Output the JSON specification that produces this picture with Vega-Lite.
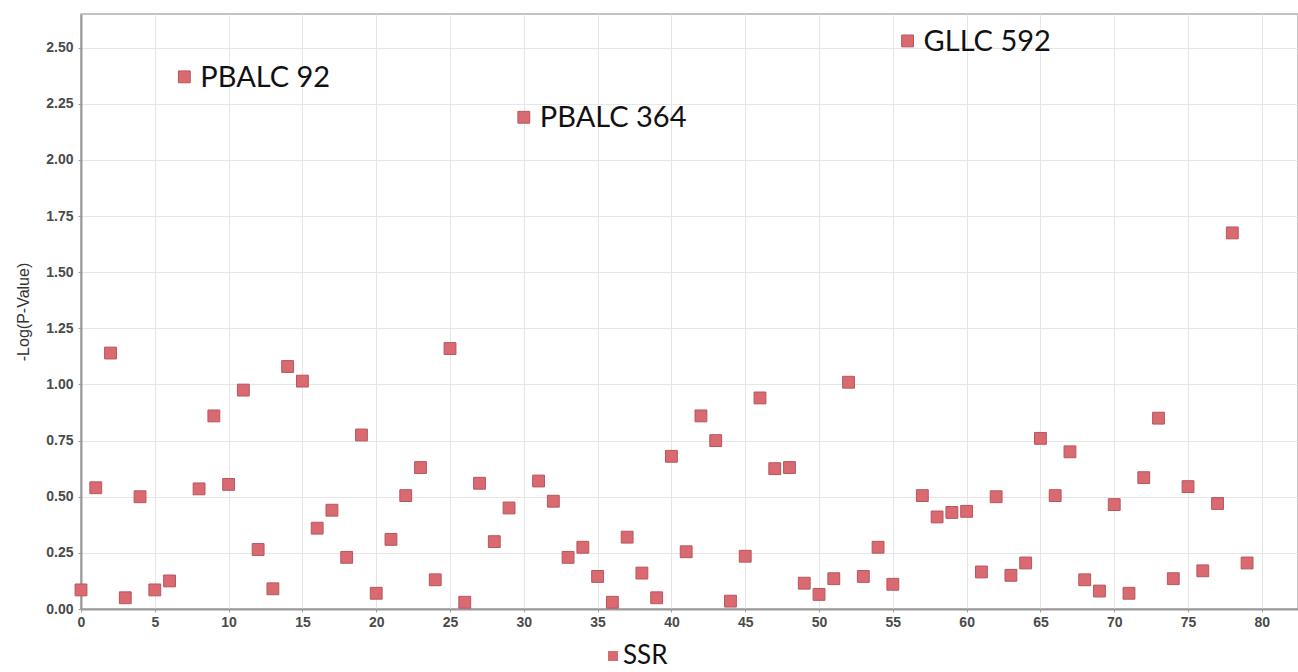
{
  "$schema": "https://vega.github.io/schema/vega-lite/v6.json",
  "autosize": {"type": "none"},
  "padding": {"left": 81, "top": 14, "right": 0, "bottom": 63},
  "width": 1217,
  "height": 595,
  "background": "white",
  "config": {
    "view": {"stroke": "#b0b0b0", "strokeWidth": 1.5},
    "axis": {
      "gridColor": "#e6e6e6",
      "gridWidth": 1,
      "domainColor": "#9a9a9a",
      "domainWidth": 2,
      "tickColor": "#9a9a9a",
      "tickSize": 3,
      "labelFont": "Liberation Sans",
      "labelFontSize": 14,
      "labelFontWeight": "bold",
      "labelColor": "#4a4a4a",
      "titleFont": "Liberation Sans",
      "titleFontSize": 16,
      "titleFontWeight": "normal",
      "titleColor": "#333333"
    }
  },
  "data": {
    "values": [
      {"ssr": 0, "p": 0.085, "series": "SSR", "label": ""},
      {"ssr": 1, "p": 0.54, "series": "SSR", "label": ""},
      {"ssr": 2, "p": 1.14, "series": "SSR", "label": ""},
      {"ssr": 3, "p": 0.05, "series": "SSR", "label": ""},
      {"ssr": 4, "p": 0.5, "series": "SSR", "label": ""},
      {"ssr": 5, "p": 0.085, "series": "SSR", "label": ""},
      {"ssr": 6, "p": 0.125, "series": "SSR", "label": ""},
      {"ssr": 7, "p": 2.37, "series": "SSR", "label": "PBALC 92"},
      {"ssr": 8, "p": 0.535, "series": "SSR", "label": ""},
      {"ssr": 9, "p": 0.86, "series": "SSR", "label": ""},
      {"ssr": 10, "p": 0.555, "series": "SSR", "label": ""},
      {"ssr": 11, "p": 0.975, "series": "SSR", "label": ""},
      {"ssr": 12, "p": 0.265, "series": "SSR", "label": ""},
      {"ssr": 13, "p": 0.09, "series": "SSR", "label": ""},
      {"ssr": 14, "p": 1.08, "series": "SSR", "label": ""},
      {"ssr": 15, "p": 1.015, "series": "SSR", "label": ""},
      {"ssr": 16, "p": 0.36, "series": "SSR", "label": ""},
      {"ssr": 17, "p": 0.44, "series": "SSR", "label": ""},
      {"ssr": 18, "p": 0.23, "series": "SSR", "label": ""},
      {"ssr": 19, "p": 0.775, "series": "SSR", "label": ""},
      {"ssr": 20, "p": 0.07, "series": "SSR", "label": ""},
      {"ssr": 21, "p": 0.31, "series": "SSR", "label": ""},
      {"ssr": 22, "p": 0.505, "series": "SSR", "label": ""},
      {"ssr": 23, "p": 0.63, "series": "SSR", "label": ""},
      {"ssr": 24, "p": 0.13, "series": "SSR", "label": ""},
      {"ssr": 25, "p": 1.16, "series": "SSR", "label": ""},
      {"ssr": 26, "p": 0.03, "series": "SSR", "label": ""},
      {"ssr": 27, "p": 0.56, "series": "SSR", "label": ""},
      {"ssr": 28, "p": 0.3, "series": "SSR", "label": ""},
      {"ssr": 29, "p": 0.45, "series": "SSR", "label": ""},
      {"ssr": 30, "p": 2.19, "series": "SSR", "label": "PBALC 364"},
      {"ssr": 31, "p": 0.57, "series": "SSR", "label": ""},
      {"ssr": 32, "p": 0.48, "series": "SSR", "label": ""},
      {"ssr": 33, "p": 0.23, "series": "SSR", "label": ""},
      {"ssr": 34, "p": 0.275, "series": "SSR", "label": ""},
      {"ssr": 35, "p": 0.145, "series": "SSR", "label": ""},
      {"ssr": 36, "p": 0.03, "series": "SSR", "label": ""},
      {"ssr": 37, "p": 0.32, "series": "SSR", "label": ""},
      {"ssr": 38, "p": 0.16, "series": "SSR", "label": ""},
      {"ssr": 39, "p": 0.05, "series": "SSR", "label": ""},
      {"ssr": 40, "p": 0.68, "series": "SSR", "label": ""},
      {"ssr": 41, "p": 0.255, "series": "SSR", "label": ""},
      {"ssr": 42, "p": 0.86, "series": "SSR", "label": ""},
      {"ssr": 43, "p": 0.75, "series": "SSR", "label": ""},
      {"ssr": 44, "p": 0.035, "series": "SSR", "label": ""},
      {"ssr": 45, "p": 0.235, "series": "SSR", "label": ""},
      {"ssr": 46, "p": 0.94, "series": "SSR", "label": ""},
      {"ssr": 47, "p": 0.625, "series": "SSR", "label": ""},
      {"ssr": 48, "p": 0.63, "series": "SSR", "label": ""},
      {"ssr": 49, "p": 0.115, "series": "SSR", "label": ""},
      {"ssr": 50, "p": 0.065, "series": "SSR", "label": ""},
      {"ssr": 51, "p": 0.135, "series": "SSR", "label": ""},
      {"ssr": 52, "p": 1.01, "series": "SSR", "label": ""},
      {"ssr": 53, "p": 0.145, "series": "SSR", "label": ""},
      {"ssr": 54, "p": 0.275, "series": "SSR", "label": ""},
      {"ssr": 55, "p": 0.11, "series": "SSR", "label": ""},
      {"ssr": 56, "p": 2.53, "series": "SSR", "label": "GLLC 592"},
      {"ssr": 57, "p": 0.505, "series": "SSR", "label": ""},
      {"ssr": 58, "p": 0.41, "series": "SSR", "label": ""},
      {"ssr": 59, "p": 0.43, "series": "SSR", "label": ""},
      {"ssr": 60, "p": 0.435, "series": "SSR", "label": ""},
      {"ssr": 61, "p": 0.165, "series": "SSR", "label": ""},
      {"ssr": 62, "p": 0.5, "series": "SSR", "label": ""},
      {"ssr": 63, "p": 0.15, "series": "SSR", "label": ""},
      {"ssr": 64, "p": 0.205, "series": "SSR", "label": ""},
      {"ssr": 65, "p": 0.76, "series": "SSR", "label": ""},
      {"ssr": 66, "p": 0.505, "series": "SSR", "label": ""},
      {"ssr": 67, "p": 0.7, "series": "SSR", "label": ""},
      {"ssr": 68, "p": 0.13, "series": "SSR", "label": ""},
      {"ssr": 69, "p": 0.08, "series": "SSR", "label": ""},
      {"ssr": 70, "p": 0.465, "series": "SSR", "label": ""},
      {"ssr": 71, "p": 0.07, "series": "SSR", "label": ""},
      {"ssr": 72, "p": 0.585, "series": "SSR", "label": ""},
      {"ssr": 73, "p": 0.85, "series": "SSR", "label": ""},
      {"ssr": 74, "p": 0.135, "series": "SSR", "label": ""},
      {"ssr": 75, "p": 0.545, "series": "SSR", "label": ""},
      {"ssr": 76, "p": 0.17, "series": "SSR", "label": ""},
      {"ssr": 77, "p": 0.47, "series": "SSR", "label": ""},
      {"ssr": 78, "p": 1.675, "series": "SSR", "label": ""},
      {"ssr": 79, "p": 0.205, "series": "SSR", "label": ""}
    ]
  },
  "encoding": {
    "x": {
      "field": "ssr",
      "type": "quantitative",
      "scale": {"domain": [0, 82.45], "nice": false},
      "axis": {"values": [0,5,10,15,20,25,30,35,40,45,50,55,60,65,70,75,80], "title": null, "labelPadding": 3, "labelFlush": false}
    },
    "y": {
      "field": "p",
      "type": "quantitative",
      "scale": {"domain": [0, 2.65], "nice": false},
      "axis": {"values": [0,0.25,0.5,0.75,1,1.25,1.5,1.75,2,2.25,2.5], "format": ".2f", "title": "-Log(P-Value)", "titlePadding": 14, "labelPadding": 5}
    }
  },
  "layer": [
    {
      "mark": {"type": "square", "size": 140, "opacity": 1, "strokeWidth": 1, "stroke": "#b8555c"},
      "encoding": {
        "color": {
          "field": "series",
          "type": "nominal",
          "scale": {"range": ["#da6a72"]},
          "legend": {
            "title": null,
            "orient": "none",
            "legendX": 519,
            "legendY": 629,
            "direction": "horizontal",
            "labelFont": "Lato",
            "labelFontSize": 26,
            "labelColor": "#111111",
            "symbolType": "square",
            "symbolSize": 100,
            "symbolStrokeWidth": 0,
            "labelOffset": -3
          }
        }
      }
    },
    {
      "transform": [{"filter": "datum.label != ''"}],
      "mark": {"type": "text", "align": "left", "baseline": "middle", "dx": 16, "dy": 1, "font": "Lato", "fontSize": 29, "color": "#111111"},
      "encoding": {"text": {"field": "label"}}
    }
  ]
}
